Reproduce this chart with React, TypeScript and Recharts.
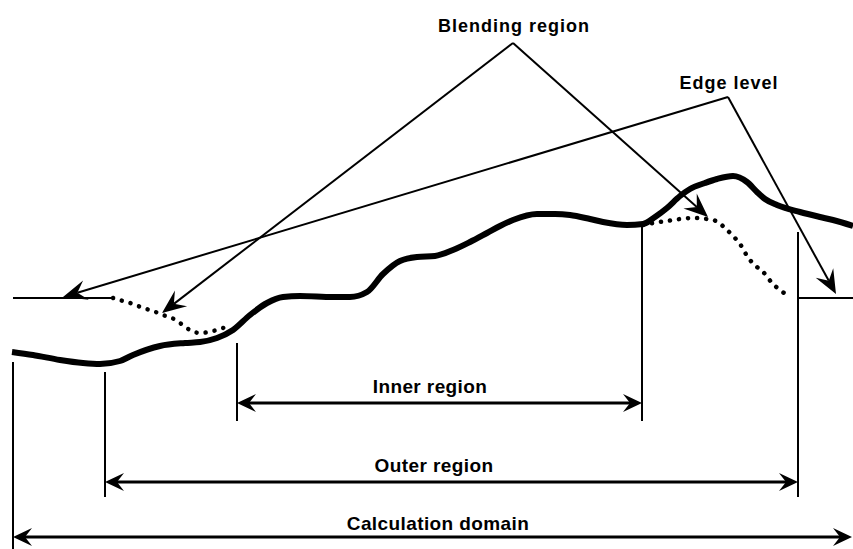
import React from 'react';
import { ComposedChart, Line, XAxis, YAxis, ReferenceLine, ReferenceDot } from 'recharts';

// Diagram coordinates: x to the right, y downward (reversed axis)
const terrain = [
  { x: 12, y: 352 }, { x: 33, y: 355 }, { x: 60, y: 360 }, { x: 83, y: 363 }, { x: 100, y: 364 },
  { x: 120, y: 361 }, { x: 133, y: 355 }, { x: 160, y: 346 }, { x: 185, y: 343 }, { x: 200, y: 342 },
  { x: 217, y: 338 }, { x: 233, y: 330 }, { x: 250, y: 315 }, { x: 267, y: 303 }, { x: 283, y: 297 },
  { x: 300, y: 296 }, { x: 333, y: 297 }, { x: 350, y: 297 }, { x: 367, y: 292 }, { x: 383, y: 274 },
  { x: 400, y: 261 }, { x: 417, y: 257 }, { x: 435, y: 256 }, { x: 453, y: 250 }, { x: 470, y: 242 },
  { x: 487, y: 233 }, { x: 500, y: 226 }, { x: 513, y: 220 }, { x: 537, y: 214 }, { x: 555, y: 214 },
  { x: 570, y: 215 }, { x: 590, y: 219 }, { x: 603, y: 222 }, { x: 627, y: 225 }, { x: 643, y: 224 },
  { x: 655, y: 217 }, { x: 667, y: 208 }, { x: 680, y: 196 }, { x: 690, y: 189 }, { x: 705, y: 183 },
  { x: 717, y: 179 }, { x: 733, y: 176 }, { x: 747, y: 182 }, { x: 757, y: 192 }, { x: 765, y: 199 },
  { x: 777, y: 205 }, { x: 800, y: 212 }, { x: 820, y: 217 }, { x: 833, y: 220 }, { x: 853, y: 226 },
];

const blendLeft = [
  { x: 113, y: 298 }, { x: 123, y: 301 }, { x: 133, y: 304 }, { x: 143, y: 308 }, { x: 153, y: 311 },
  { x: 163, y: 315 }, { x: 172, y: 318 }, { x: 180, y: 323 }, { x: 190, y: 330 }, { x: 200, y: 333 },
  { x: 213, y: 331 }, { x: 223, y: 328 }, { x: 232, y: 326 },
];

const blendRight = [
  { x: 643, y: 225 }, { x: 653, y: 223 }, { x: 667, y: 221 }, { x: 680, y: 219 }, { x: 693, y: 218 },
  { x: 707, y: 219 }, { x: 716, y: 221 }, { x: 727, y: 230 }, { x: 735, y: 238 }, { x: 742, y: 247 },
  { x: 747, y: 256 }, { x: 757, y: 267 }, { x: 765, y: 274 }, { x: 772, y: 283 }, { x: 780, y: 290 },
  { x: 790, y: 297 },
];

const edgeLeft = [{ x: 13, y: 298 }, { x: 113, y: 298 }];
const edgeRight = [{ x: 798, y: 298 }, { x: 853, y: 298 }];

const boundaries = [
  { x: 13, top: 362, bottom: 549 },
  { x: 105, top: 372, bottom: 497 },
  { x: 237, top: 343, bottom: 421 },
  { x: 642, top: 226, bottom: 421 },
  { x: 798, top: 232, bottom: 497 },
];

const spans = [
  { label: 'Inner region', x1: 237, x2: 642, y: 403, labelX: 430, labelY: 386 },
  { label: 'Outer region', x1: 105, x2: 798, y: 482, labelX: 434, labelY: 465 },
  { label: 'Calculation domain', x1: 13, x2: 852, y: 537, labelX: 438, labelY: 523 },
];

const pointers = [
  { fx: 513, fy: 43, tx: 162, ty: 313 },
  { fx: 513, fy: 43, tx: 708, ty: 217 },
  { fx: 728, fy: 97, tx: 63, ty: 297 },
  { fx: 728, fy: 97, tx: 836, ty: 294 },
];

const captions = [
  { label: 'Blending region', x: 514, y: 26 },
  { label: 'Edge level', x: 729, y: 83 },
];

const FONT = '"Liberation Sans", Arial, sans-serif';

function head(tx: number, ty: number, ux: number, uy: number, L: number, W: number, N: number) {
  const nx = -uy, ny = ux;
  const bx = tx - L * ux, by = ty - L * uy;
  const pts = [
    [tx, ty],
    [bx + W * nx, by + W * ny],
    [tx - (L - N) * ux, ty - (L - N) * uy],
    [bx - W * nx, by - W * ny],
  ];
  return pts.map((p) => p.join(',')).join(' ');
}

const pointerShape = (p: any) => {
  const { x1, y1, x2, y2 } = p;
  const dx = x2 - x1, dy = y2 - y1;
  const len = Math.hypot(dx, dy);
  const ux = dx / len, uy = dy / len;
  const L = 24, W = 10, N = 9;
  return (
    <g>
      <line x1={x1} y1={y1} x2={x2 - (L - N) * ux} y2={y2 - (L - N) * uy} stroke="#000" strokeWidth={2} />
      <polygon points={head(x2, y2, ux, uy, L, W, N)} fill="#000" />
    </g>
  );
};

const spanShape = (p: any) => {
  const { x1, y1, x2, y2 } = p;
  const L = 19, W = 9, N = 7;
  return (
    <g>
      <line x1={x1 + (L - N)} y1={y1} x2={x2 - (L - N)} y2={y2} stroke="#000" strokeWidth={3} />
      <polygon points={head(x2, y2, 1, 0, L, W, N)} fill="#000" />
      <polygon points={head(x1, y1, -1, 0, L, W, N)} fill="#000" />
    </g>
  );
};

const textShape = (label: string, size: number, spacing: number) => (p: any) => (
  <text
    x={p.cx}
    y={p.cy}
    textAnchor="middle"
    dominantBaseline="central"
    fontFamily={FONT}
    fontSize={size}
    fontWeight="bold"
    letterSpacing={spacing}
    fill="#000"
  >
    {label}
  </text>
);

export default function App() {
  return (
    <div style={{ position: 'absolute', left: 0, top: 0, width: 853, height: 549, background: '#fff' }}>
      <ComposedChart width={853} height={549} margin={{ top: 0, right: 0, bottom: 0, left: 0 }}>
        <XAxis type="number" dataKey="x" domain={[0, 853]} hide allowDataOverflow />
        <YAxis type="number" domain={[0, 549]} reversed hide allowDataOverflow />

        {boundaries.map((b, i) => (
          <ReferenceLine
            key={'b' + i}
            ifOverflow="visible"
            segment={[{ x: b.x, y: b.top }, { x: b.x, y: b.bottom }]}
            stroke="#000"
            strokeWidth={2}
          />
        ))}

        <Line data={edgeLeft} dataKey="y" type="linear" stroke="#000" strokeWidth={2} dot={false} activeDot={false} isAnimationActive={false} />
        <Line data={edgeRight} dataKey="y" type="linear" stroke="#000" strokeWidth={2} dot={false} activeDot={false} isAnimationActive={false} />
        <Line
          data={blendLeft}
          dataKey="y"
          type="monotone"
          stroke="#000"
          strokeWidth={4.5}
          strokeDasharray="0.1 9"
          strokeLinecap="round"
          dot={false}
          activeDot={false}
          isAnimationActive={false}
        />
        <Line
          data={blendRight}
          dataKey="y"
          type="monotone"
          stroke="#000"
          strokeWidth={4.5}
          strokeDasharray="0.1 9"
          strokeLinecap="round"
          dot={false}
          activeDot={false}
          isAnimationActive={false}
        />
        <Line
          data={terrain}
          dataKey="y"
          type="monotone"
          stroke="#000"
          strokeWidth={6}
          strokeLinecap="butt"
          dot={false}
          activeDot={false}
          isAnimationActive={false}
        />

        {pointers.map((p, i) => (
          <ReferenceLine
            key={'p' + i}
            ifOverflow="visible"
            segment={[{ x: p.fx, y: p.fy }, { x: p.tx, y: p.ty }]}
            shape={pointerShape}
          />
        ))}

        {spans.map((s, i) => (
          <ReferenceLine
            key={'s' + i}
            ifOverflow="visible"
            segment={[{ x: s.x1, y: s.y }, { x: s.x2, y: s.y }]}
            shape={spanShape}
          />
        ))}

        {spans.map((s, i) => (
          <ReferenceDot key={'sl' + i} x={s.labelX} y={s.labelY} ifOverflow="visible" shape={textShape(s.label, 19, 0.4)} />
        ))}
        {captions.map((c, i) => (
          <ReferenceDot key={'c' + i} x={c.x} y={c.y} ifOverflow="visible" shape={textShape(c.label, 18, 1)} />
        ))}
      </ComposedChart>
    </div>
  );
}
